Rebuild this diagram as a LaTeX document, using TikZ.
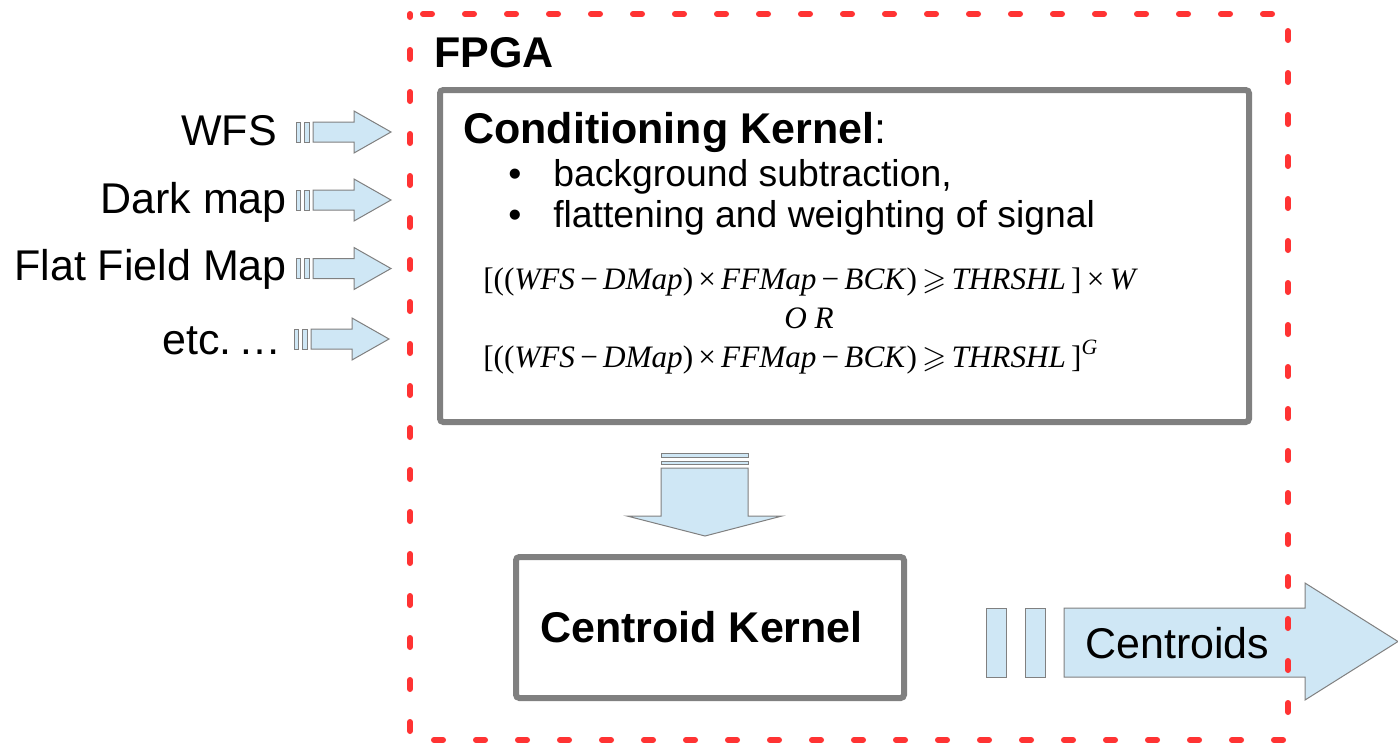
\documentclass[tikz,border=0pt]{standalone}
\usepackage{amssymb}
\usepackage{fontspec}
\setmainfont{Liberation Sans}
\newfontfamily\frm{Liberation Serif}
\definecolor{arrowfill}{RGB}{207,231,245}
\definecolor{edgegray}{RGB}{128,128,128}
\definecolor{fpgared}{RGB}{255,51,51}
\newcommand\vv[1]{\textit{#1}}
\tikzset{
  lbl/.style={font=\fontsize{32.25}{36}\selectfont, inner sep=0pt},
  bul/.style={font=\fontsize{28}{32}\selectfont, inner sep=0pt},
  frml/.style={font=\frm\fontsize{23.4}{26}\selectfont, inner sep=0pt},
  blk/.style={fill=arrowfill, draw=edgegray, line width=0.75pt, line join=miter},
  kbox/.style={draw=edgegray, line width=4.5pt, rounded corners=2.5pt, inner sep=0pt, fill=white},
  frame/.style={draw=fpgared, line width=4.5pt, line cap=round,
    dash pattern=on 6.75pt off 24.75pt, dash phase=21.75pt},
}
\begin{document}
\begin{tikzpicture}[x=0.75pt,y=-0.75pt]
  % canvas
  \fill[white] (0,0) rectangle (1398,743);
  \useasboundingbox (0,0) rectangle (1398,743);

  % input labels
  \node[lbl, anchor=base east] (wfs)  at (277,145) {WFS};
  \node[lbl, anchor=base east] (dark) at (287,213) {Dark map};
  \node[lbl, anchor=base east] (flat) at (287,280) {Flat Field Map};
  \node[lbl, anchor=base east] (etc)  at (282,354) {etc.\,…};

  % input block arrows
  \foreach \c/\dx in {132/0, 200/0, 268.5/0, 339/-2} {
    \begin{scope}[shift={(\dx,\c)}]
      \draw[blk] (296,-10) rectangle (300,10);
      \draw[blk] (304,-10) rectangle (309,10);
      \draw[blk] (313,-10) -- (354,-10) -- (354,-21) -- (391,0)
                 -- (354,21) -- (354,10) -- (313,10) -- cycle;
    \end{scope}
  }

  % conditioning kernel
  \node[kbox, minimum width=606.75pt, minimum height=249pt] (cond) at (844.5,256) {};
  \node[lbl, anchor=base west] (condt) at (463,143) {\textbf{Conditioning Kernel}:};
  \node[bul, anchor=base] (b1) at (515,186) {•};
  \node[bul, anchor=base west] (t1) at (553,186) {background subtraction,};
  \node[bul, anchor=base] (b2) at (515,227) {•};
  \node[bul, anchor=base west] (t2) at (553,227) {flattening and weighting of signal};
  \node[frml, anchor=base west] (f1) at (483,289)
    {[((\vv{WFS}\,−\,\vv{DMap})\,×\,\vv{FFMap}\,−\,\vv{BCK})\,$\geqslant$\,\vv{THRSHL}\,]\,×\,\vv{W}};
  \node[frml, anchor=base] (f2) at (809,328) {\vv{O R}};
  \node[frml, anchor=base west] (f3) at (483,367)
    {[((\vv{WFS}\,−\,\vv{DMap})\,×\,\vv{FFMap}\,−\,\vv{BCK})\,$\geqslant$\,\vv{THRSHL}\,]\textsuperscript{\vv{G}}};

  % data flow to the centroid kernel
  \draw[blk] (661,453) rectangle (748,457);
  \draw[blk] (661,461) rectangle (748,464);
  \draw[blk] (661,468) -- (748,468) -- (748,516) -- (782,516) -- (705,536)
             -- (627,516) -- (661,516) -- cycle;

  % centroid kernel
  \node[kbox, minimum width=291pt, minimum height=105.75pt] (cent) at (710,627.5) {};
  \node[lbl, anchor=base west] (centt) at (540,642) {\textbf{Centroid Kernel}};

  % output
  \draw[blk] (986,608) rectangle (1006,677);
  \draw[blk] (1025,608) rectangle (1045,677);
  \draw[blk] (1064,608) -- (1305,608) -- (1305,583) -- (1398,641.5)
             -- (1305,700) -- (1305,677) -- (1064,677) -- cycle;
  \node[lbl, anchor=base west] (outt) at (1085,658) {Centroids};

  % FPGA boundary
  \draw[frame] (410,14) -- (1288,14) -- (1288,740) -- (410,740) -- cycle;
  \node[lbl, anchor=base west] (fpga) at (434,67) {\textbf{FPGA}};
\end{tikzpicture}
\end{document}
